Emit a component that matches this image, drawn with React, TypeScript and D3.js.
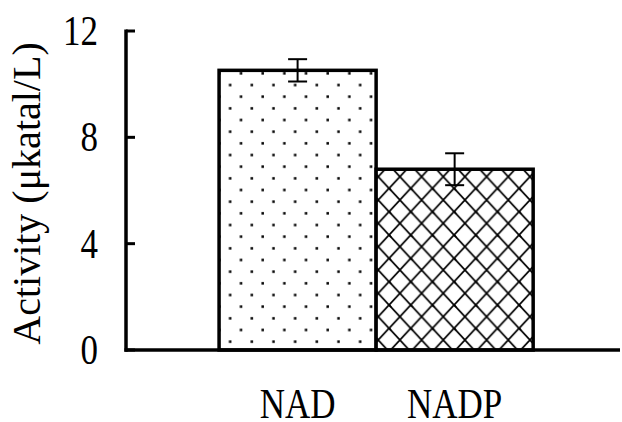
import React from "react";
import * as d3 from "d3";

const categories = ["NAD", "NADP"];
const activity = [10.52, 6.8];
const errors = [0.42, 0.6];
const yTicks = [0, 4, 8, 12];
const yTitle = "Activity (μkatal/L)";

const W = 622;
const H = 422;
const FONT = "'Liberation Serif', 'Times New Roman', serif";

export default function App() {
  const x = d3
    .scaleBand<string>()
    .domain(categories)
    .range([125, 620])
    .paddingInner(0)
    .paddingOuter(0.576)
    .align(0.52);
  const y = d3.scaleLinear().domain([0, 12]).range([350, 31]);
  const patterns = ["url(#dots)", "url(#xhatch)"];
  const pw = 21.67;
  const ph = 23.33;

  return (
    <svg
      width={W}
      height={H}
      style={{ position: "absolute", left: 0, top: 0, background: "#fff" }}
    >
      <defs>
        <pattern id="dots" patternUnits="userSpaceOnUse" x={0} y={0} width={pw} height={ph}>
          <rect width={pw} height={ph} fill="#fff" />
          <rect x={1.4} y={2.1} width={2.5} height={2.5} fill="#000" />
          <rect x={12.2} y={13.8} width={2.5} height={2.5} fill="#000" />
        </pattern>
        <pattern id="xhatch" patternUnits="userSpaceOnUse" x={-1} y={1.7} width={pw} height={ph}>
          <rect width={pw} height={ph} fill="#fff" />
          <path
            d={`M0,0L${pw},${ph}M${pw},0L0,${ph}`}
            stroke="#000"
            strokeWidth={1.8}
            fill="none"
          />
          <path d={`M-2,-2L2,2M${pw - 2},${ph + 2}L${pw + 2},${ph - 2}`} stroke="#000" strokeWidth={1.8} />
        </pattern>
      </defs>
      <rect width={W} height={H} fill="#fff" />

      {categories.map((c, i) => (
        <rect
          key={c}
          x={x(c)!}
          y={y(activity[i])}
          width={x.bandwidth()}
          height={y(0) - y(activity[i])}
          fill={patterns[i]}
          stroke="#000"
          strokeWidth={3.5}
        />
      ))}

      {categories.map((c, i) => {
        const cx = x(c)! + x.bandwidth() / 2;
        const top = y(activity[i] + errors[i]);
        const bot = y(activity[i] - errors[i]);
        return (
          <g key={c + "err"} stroke="#000" strokeWidth={2}>
            <line x1={cx} x2={cx} y1={top} y2={bot} />
            <line x1={cx - 9.5} x2={cx + 9.5} y1={top} y2={top} />
            <line x1={cx - 9.5} x2={cx + 9.5} y1={bot} y2={bot} />
          </g>
        );
      })}

      {/* axes */}
      <line x1={126} x2={126} y1={y(12) - 1.5} y2={y(0) + 1.7} stroke="#000" strokeWidth={3.5} />
      <line x1={124.5} x2={620} y1={y(0)} y2={y(0)} stroke="#000" strokeWidth={3.5} />
      {yTicks.map((t) => (
        <g key={t}>
          <line x1={126} x2={135} y1={y(t)} y2={y(t)} stroke="#000" strokeWidth={3} />
          <g transform={`translate(98,${y(t) + 14}) scale(1,1.18)`}>
            <text x={0} y={0} textAnchor="end" fontFamily={FONT} fontSize={35} fill="#000">
              {t}
            </text>
          </g>
        </g>
      ))}

      {categories.map((c) => (
        <g key={c + "lbl"} transform={`translate(${x(c)! + x.bandwidth() / 2},418) scale(1,1.18)`}>
          <text x={0} y={0} textAnchor="middle" fontFamily={FONT} fontSize={35} fill="#000">
            {c}
          </text>
        </g>
      ))}

      <text
        transform={`translate(40,193.5) rotate(-90)`}
        textAnchor="middle"
        fontFamily={FONT}
        fontSize={40}
        fill="#000"
      >
        {yTitle}
      </text>
    </svg>
  );
}
